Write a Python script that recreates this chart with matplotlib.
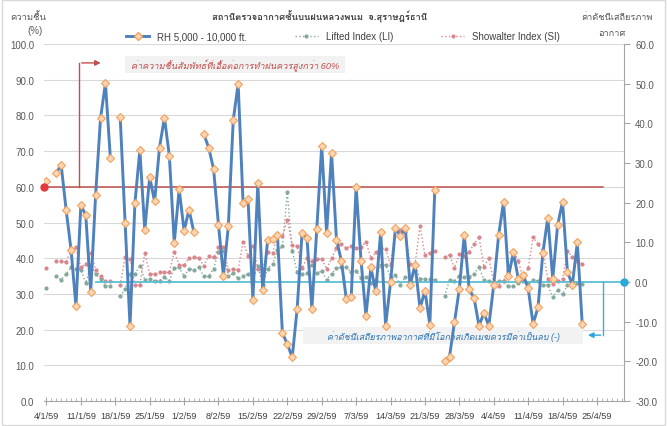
import numpy as np
import pandas as pd
import matplotlib
matplotlib.use("Agg")
import matplotlib.pyplot as plt
from matplotlib import font_manager
from matplotlib.ticker import MultipleLocator, FormatStrFormatter
from matplotlib.lines import Line2D
from matplotlib.patches import Rectangle


def find_thai_font():
    # look for any installed font that has Thai glyphs
    try:
        from fontTools.ttLib import TTFont
    except ImportError:
        return None
    for f in font_manager.fontManager.ttflist:
        try:
            cmap = TTFont(f.fname, fontNumber=0, lazy=True).getBestCmap()
        except Exception:
            continue
        if cmap and 0x0E04 in cmap:
            return f.name
    return None


thai_font = find_thai_font()
families = ['Liberation Sans']
if thai_font:
    families.append(thai_font)
families.append('DejaVu Sans')
plt.rcParams['font.family'] = families

# Data
dates = pd.date_range('2016-01-04', '2016-04-30')
tick_labels = [f"{d.day}/{d.month}/59" for d in dates[::7]]

rh = [61.6, None, 64, 66, 53.6, 42.4, 26.6, 54.9, 52, 30.6,
      57.7, 79.2, 89, 68.1, None, 79.6, 50, 21, 55.5, 70.3,
      47.9, 62.7, 55.9, 71, 79.4, 68.7, 44.3, 59.4, 47.7, 53.6,
      47.2, None, 74.8, 71, 65, 49.3, 35.1, 48.9, 78.7, 88.8,
      55.6, 56.6, 28.3, 61, 31.1, 45, 45.5, 46.5, 19, 16,
      12.2, 25.8, 47, 45.6, 25.8, 48.2, 71.5, 47, 69.5, 45.2,
      39.3, 28.6, 29, 60, 39.3, 23.9, 37.4, 30.7, 47.4, 21.1,
      33.2, 48.4, 46.3, 48.4, 32.5, 38.1, 26, 30.9, 21.3, 59,
      None, 11.3, 12.4, 22, 31.4, 46.5, 31.4, 28.8, 21.1, 24.6,
      21.1, 32.5, 46.5, 55.8, 34.9, 41.6, 34.2, 35.3, 31.6, 21.6,
      26.2, 41.5, 51.4, 34.2, 49.3, 55.8, 36.1, 32.6, 44.4, 21.6,
      None, None, None, None, None, None, None, None]

li = [-1.6, None, 1.4, 0.6, 2, 3.7, 3.4, 3.1, -0.3, 4.3,
      2, 0.8, -1.1, -0.9, None, -3.6, -1.8, 2, 2, 4.1,
      0.6, 0.8, 0.3, 0.3, 1.2, 0.3, 3.5, 3.7, 1.4, 3.4,
      3, 3.7, 1.4, 1.4, 3.4, 7.5, 7.9, 1.4, 2.2, 0.9,
      1.4, 2, 0.3, 4.1, -0.8, 3.4, 4.5, 8, 9, 22.6,
      7.9, 2.6, 2.1, 2.3, 4.3, 2.3, 2.7, 0.6, 2.1, 3.5,
      3.7, 3.7, 2.5, 2.8, 1, 1.2, -0.3, 0.5, 4.3, 4.3,
      1.3, 1.8, -0.8, 1.3, 0.8, 4.3, 0.8, 0.8, 0.8, 0.5,
      None, -3.6, 0.5, 0.3, 1.6, 1.3, 1.3, 2.1, 3.7, 0.6,
      0.3, -0.3, 0.2, 0.3, -1.1, -1.1, -0.3, 0.3, -0.3, 0.6,
      0.2, -0.8, -0.8, -3.9, -2, -3.1, -0.8, -1.1, -0.3, -0.5,
      None, None, None, None, None, None, None, None]

si = [3.5, None, 5.4, 5.2, 5, 8.1, 8.7, 3.7, 4.5, 7.3,
      3.1, 1.4, 0.3, 0.3, None, -0.8, 6.2, 5.8, -0.8, -0.8,
      7.3, 2, 2, 2.4, 2.4, 2.4, 7.6, 4.3, 4.2, 6,
      6.2, 6, 4.1, 6.6, 6.2, 8.7, 8.7, 3.1, 3.3, 3,
      10.2, 6.6, 9.2, 3.3, 3.1, 7.6, 7.4, 11.7, 11.5, 15.7,
      9.3, 9.1, 3.5, 6, 5.4, 5.8, 5.8, 3.3, 6, 8.5,
      9.6, 8.5, 9.2, 8.5, 8.7, 10.2, 6, 7.5, 8.5, 8.3,
      4.3, 13.4, 13, 12.5, 4.5, 4.6, 14.2, 6.7, 7.4, 7.9,
      None, 6.2, 6.9, 3.5, 7.1, 6.5, 7.6, 9.6, 11.3, 3.8,
      6, -0.1, -0.9, 0.3, 3, 7.9, 5.4, 0.8, 3.5, 11.3,
      9.6, 7.6, 0.8, -0.4, 0.2, 0.8, 7.9, 6.2, 5.4, 4.5,
      None, None, None, None, None, None, None, None]

rh_threshold = 60
index_threshold = 0

title = "สถานีตรวจอากาศชั้นบนฝนหลวงพนม  จ.สุราษฎร์ธานี"
rh_note = "ค่าความชื้นสัมพัทธ์ที่เอื้อต่อการทำฝนควรสูงกว่า 60%"
index_note = "ค่าดัชนีเสถียรภาพอากาศที่มีโอกาสเกิดเมฆควรมีค่าเป็นลบ (-)"

x = np.arange(len(dates))
rh = np.array(rh, dtype=float)
li = np.array(li, dtype=float)
si = np.array(si, dtype=float)

fig = plt.figure(figsize=(6.68, 4.27), dpi=100)
ax = fig.add_axes([44/668, 1-402/427, 580/668, 357/427])
ax2 = ax.twinx()
ax.set_zorder(ax2.get_zorder() + 1)
ax.patch.set_visible(False)

ax.set_xlim(-0.5, len(x) - 0.5)
ax.set_ylim(0, 100)
ax2.set_ylim(-30, 60)

# grid + axes styling
ax.yaxis.set_major_locator(MultipleLocator(10))
ax2.yaxis.set_major_locator(MultipleLocator(10))
ax.yaxis.set_major_formatter(FormatStrFormatter('%.1f'))
ax2.yaxis.set_major_formatter(FormatStrFormatter('%.1f'))
ax2.grid(False)
for yv in np.arange(10, 101, 10):
    ax2.axhline(-30 + yv * 0.9, color='#D9D9D9', lw=0.8, zorder=0)

for s in ['left', 'top', 'right']:
    ax.spines[s].set_visible(False)
for s in ['left', 'top', 'bottom']:
    ax2.spines[s].set_visible(False)
ax.spines['bottom'].set_color('#A6A6A6')
ax2.spines['right'].set_color('#A6A6A6')

ax.tick_params(axis='y', length=0, labelsize=7, labelcolor='#595959', pad=7)
ax2.tick_params(axis='y', length=4, labelsize=7, labelcolor='#595959', color='#A6A6A6', pad=4)

ax.set_xticks(x[::7])
ax.set_xticklabels(tick_labels)
ax.xaxis.set_minor_locator(MultipleLocator(1))
ax.tick_params(axis='x', which='major', direction='inout', length=6, color='#A6A6A6',
               labelsize=6.6, labelcolor='#404040', pad=4)
ax.tick_params(axis='x', which='minor', direction='in', length=2.5, color='#A6A6A6')

# series
ax2.plot(x, li, ls=':', color='#84A99C', lw=1, marker='o', ms=2, label='Lifted Index (LI)')
ax2.plot(x, si, ls=':', color='#D9868D', lw=1, marker='o', ms=2, label='Showalter Index (SI)')
ax.plot(x, rh, color='#4F81BD', lw=2.1, marker='D', ms=4.5, mfc='#FCD5B4', mec='#F3A15B',
        mew=0.8, label='RH 5,000 - 10,000 ft.', zorder=5)

# threshold lines
ax.plot([-0.5, 113.3], [rh_threshold, rh_threshold], color='#C0504D', lw=1.1, zorder=3)
ax.plot(-0.5, rh_threshold, 'o', color='#E03A3E', ms=5, clip_on=False, zorder=6)
ax2.plot([10, 117.5], [index_threshold, index_threshold], color='#5BBFD6', lw=1.3, zorder=2)
ax2.plot(117.5, index_threshold, 'o', color='#2AA7DB', ms=5, clip_on=False, zorder=6)

# red note with connector
ax.plot([6.6, 6.6], [rh_threshold, 94.7], color='#C0504D', lw=1, zorder=3)
ax.annotate('', xy=(11.6, 94.7), xytext=(6.6, 94.7),
            arrowprops=dict(arrowstyle='-|>', color='#C0504D', lw=1, mutation_scale=8))
ax.add_patch(Rectangle((16.0, 91.8), 44.8, 4.7, facecolor='#F2F2F2', edgecolor='none', zorder=2))
ax.text(38.4, 94.1, rh_note, ha='center', va='center', color='#C0504D', style='italic',
        fontsize=6.6, zorder=4)

# blue note with connector
ax2.plot([113.3, 113.3], [index_threshold, -13.4], color='#4BACC6', lw=1, zorder=3)
ax2.annotate('', xy=(109.6, -13.4), xytext=(113.3, -13.4),
             arrowprops=dict(arrowstyle='-|>', color='#2AA7DB', lw=1, mutation_scale=8))
ax.add_patch(Rectangle((52.2, 15.9), 57.0, 4.8, facecolor='#F2F2F2', edgecolor='none', zorder=2))
ax.text(80.7, 18.2, index_note, ha='center', va='center', color='#2E75B6', style='italic',
        fontsize=6.4, zorder=4)

# titles and axis captions
fig.text(320/668, 1-17/427, title, ha='center', va='center', fontsize=6.8, fontweight='bold',
         color='#404040')
fig.text(28/668, 1-17/427, "ความชื้น", ha='center', va='center', fontsize=6.8, color='#595959')
fig.text(35/668, 1-31/427, "(%)", ha='center', va='center', fontsize=7, color='#595959')
fig.text(617/668, 1-17/427, "ค่าดัชนีเสถียรภาพ", ha='center', va='center', fontsize=6.6,
         color='#595959')
fig.text(612/668, 1-34/427, "อากาศ", ha='center', va='center', fontsize=6.6, color='#595959')

handles = [Line2D([], [], color='#4F81BD', lw=2.1, marker='D', ms=4.5, mfc='#FCD5B4', mec='#F3A15B'),
           Line2D([], [], ls=':', color='#84A99C', lw=1, marker='o', ms=2),
           Line2D([], [], ls=':', color='#D9868D', lw=1, marker='o', ms=2)]
fig.legend(handles, ['RH 5,000 - 10,000 ft.', 'Lifted Index (LI)', 'Showalter Index (SI)'],
           loc='center', bbox_to_anchor=(343/668, 1-37/427), ncol=3, frameon=False,
           fontsize=7, handlelength=2.4, columnspacing=4.9, labelcolor='#404040')

fig.patches.append(Rectangle((0.003, 0.003), 0.992, 0.994, transform=fig.transFigure,
                             fill=False, edgecolor='#D9D9D9', lw=1))

fig.savefig('out.png', dpi=100)
